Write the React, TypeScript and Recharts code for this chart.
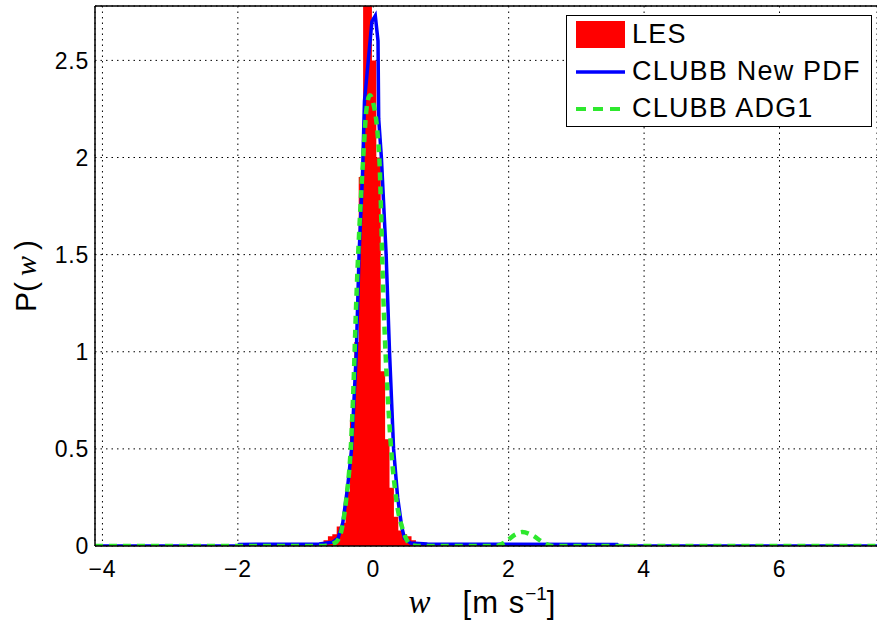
import React from "react";
import {
  Area,
  CartesianGrid,
  ComposedChart,
  Line,
  ReferenceLine,
  XAxis,
  YAxis,
} from "recharts";

// LES histogram: bin edges and bin heights
const lesEdges = [
  -0.8, -0.735, -0.67, -0.605, -0.54, -0.475, -0.41, -0.345, -0.28, -0.215, -0.15, -0.085,
  -0.02, 0.045, 0.11, 0.175, 0.24, 0.305, 0.37, 0.435, 0.5, 0.565, 0.63, 0.695, 0.76,
];
const lesHeights = [
  0.01, 0.03, 0.05, 0.06, 0.1, 0.12, 0.28, 0.65, 1.05, 1.9, 3.0, 3.0, 2.5, 2.0, 0.9, 0.55,
  0.3, 0.15, 0.08, 0.06, 0.05, 0.03, 0.02, 0.01,
];

// CLUBB New PDF
const newPdfW = [
  -4.11, -2.0, -1.98, -0.8, -0.6, -0.52, -0.45, -0.38, -0.32, -0.25, -0.21, -0.16, -0.13,
  -0.06, -0.02, 0.03, 0.07, 0.08, 0.12, 0.19, 0.24, 0.3, 0.36, 0.42, 0.46, 0.55, 0.8, 3.6,
  3.62, 7.44,
];
const newPdfP = [
  0, 0, 0.008, 0.01, 0.02, 0.04, 0.12, 0.3, 0.5, 1.0, 1.5, 1.9, 2.29, 2.55, 2.7, 2.73, 2.6,
  2.2, 2.0, 1.5, 1.0, 0.5, 0.25, 0.1, 0.04, 0.015, 0.01, 0.008, 0, 0,
];

// CLUBB ADG1
const adg1W = [
  -4.11, -0.75, -0.66, -0.55, -0.47, -0.4, -0.325, -0.3, -0.25, -0.15, -0.1, -0.05, 0.0, 0.09,
  0.15, 0.24, 0.34, 0.44, 0.56, 0.65, 1.8, 1.95, 2.1, 2.2, 2.35, 2.5, 2.65, 7.44,
];
const adg1P = [
  0, 0, 0.005, 0.02, 0.08, 0.24, 0.55, 0.75, 1.27, 1.99, 2.25, 2.32, 2.28, 1.99, 1.27, 0.62,
  0.24, 0.08, 0.005, 0, 0, 0.02, 0.06, 0.072, 0.055, 0.02, 0, 0,
];

const xTicks = [-4, -2, 0, 2, 4, 6];
const yTicks = [0, 0.5, 1, 1.5, 2, 2.5];

const lesData = [
  ...lesHeights.map((p, i) => ({ w: lesEdges[i], les: p })),
  { w: lesEdges[lesEdges.length - 1], les: 0 },
];
const newPdfData = newPdfW.map((w, i) => ({ w, newPdf: newPdfP[i] }));
const adg1Data = adg1W.map((w, i) => ({ w, adg1: adg1P[i] }));

const FONT = "'Liberation Sans', Arial, sans-serif";
const SERIF = "'Liberation Serif', serif";
const GREEN = "#2ee82e";

function LegendBox() {
  const row = { display: "flex", alignItems: "center", height: 37 } as const;
  const text = {
    fontSize: 27,
    color: "#000",
    marginLeft: 7,
    lineHeight: "27px",
    letterSpacing: 1.2,
    whiteSpace: "nowrap",
  } as const;
  return (
    <div
      style={{
        position: "absolute",
        left: 566,
        top: 15,
        width: 306,
        height: 112,
        border: "1.5px solid #000",
        background: "#fff",
        fontFamily: FONT,
        paddingLeft: 9,
        paddingTop: 0,
        boxSizing: "border-box",
      }}
    >
      <div style={row}>
        <div style={{ width: 49, height: 27, background: "#ff0000" }} />
        <span style={text}>LES</span>
      </div>
      <div style={row}>
        <svg width={49} height={6}>
          <line x1={0} y1={3} x2={49} y2={3} stroke="#0000ff" strokeWidth={3.5} />
        </svg>
        <span style={text}>CLUBB New PDF</span>
      </div>
      <div style={row}>
        <svg width={49} height={6}>
          <line
            x1={0}
            y1={3}
            x2={49}
            y2={3}
            stroke={GREEN}
            strokeWidth={4}
            strokeDasharray="10 7"
          />
        </svg>
        <span style={text}>CLUBB ADG1</span>
      </div>
    </div>
  );
}

function XLabel(props: any) {
  const { viewBox } = props;
  const cx = viewBox.x + viewBox.width / 2 - 4;
  return (
    <text x={cx} y={613} textAnchor="middle" fontFamily={FONT} fontSize={31} fill="#000">
      <tspan fontFamily={SERIF} fontStyle="italic" fontSize={33}>
        w
      </tspan>
      <tspan dx={32} letterSpacing={1}>
        [m s
      </tspan>
      <tspan dy={-13} fontSize={19}>
        −1
      </tspan>
      <tspan dy={13}>]</tspan>
    </text>
  );
}

function YLabel(props: any) {
  const { viewBox } = props;
  const cy = viewBox.y + viewBox.height / 2;
  return (
    <text
      x={0}
      y={0}
      transform={`translate(36, ${cy}) rotate(-90)`}
      textAnchor="middle"
      fontFamily={FONT}
      fontSize={30}
      fill="#000"
    >
      <tspan>P(</tspan>
      <tspan dx={6} fontFamily={SERIF} fontStyle="italic">
        w
      </tspan>
      <tspan dx={6}>)</tspan>
    </text>
  );
}

export default function App() {
  const tickStyle = { fontSize: 23, fill: "#000", fontFamily: FONT, letterSpacing: 0.8 };
  return (
    <div style={{ position: "absolute", left: 0, top: 0, background: "#fff" }}>
      <ComposedChart
        width={877}
        height={634}
        margin={{ top: 6, right: 0, left: 0, bottom: 0 }}
      >
        <CartesianGrid stroke="#000" strokeDasharray="1.5 4" />
        <XAxis
          dataKey="w"
          type="number"
          domain={[-4.11, 7.44]}
          ticks={xTicks}
          allowDataOverflow
          height={88}
          tickSize={0}
          tickMargin={15}
          axisLine={{ stroke: "#000", strokeWidth: 1.5 }}
          tick={tickStyle}
          tickFormatter={(v: number) => String(v).replace("-", "−")}
          label={<XLabel />}
        />
        <YAxis
          type="number"
          domain={[0, 2.78]}
          ticks={yTicks}
          allowDataOverflow
          width={95}
          tickSize={0}
          tickMargin={6}
          axisLine={{ stroke: "#000", strokeWidth: 1.5 }}
          tick={tickStyle}
          label={<YLabel />}
        />
        <ReferenceLine y={2.78} stroke="#000" strokeWidth={1.5} />
        <Area
          data={lesData}
          dataKey="les"
          type="stepAfter"
          fill="#ff0000"
          fillOpacity={1}
          stroke="none"
          isAnimationActive={false}
        />
        <Line
          data={newPdfData}
          dataKey="newPdf"
          type="linear"
          stroke="#0000ff"
          strokeWidth={3.5}
          dot={false}
          isAnimationActive={false}
        />
        <Line
          data={adg1Data}
          dataKey="adg1"
          type="monotone"
          stroke={GREEN}
          strokeWidth={4.5}
          strokeDasharray="8 6"
          dot={false}
          isAnimationActive={false}
        />
      </ComposedChart>
      <LegendBox />
    </div>
  );
}
